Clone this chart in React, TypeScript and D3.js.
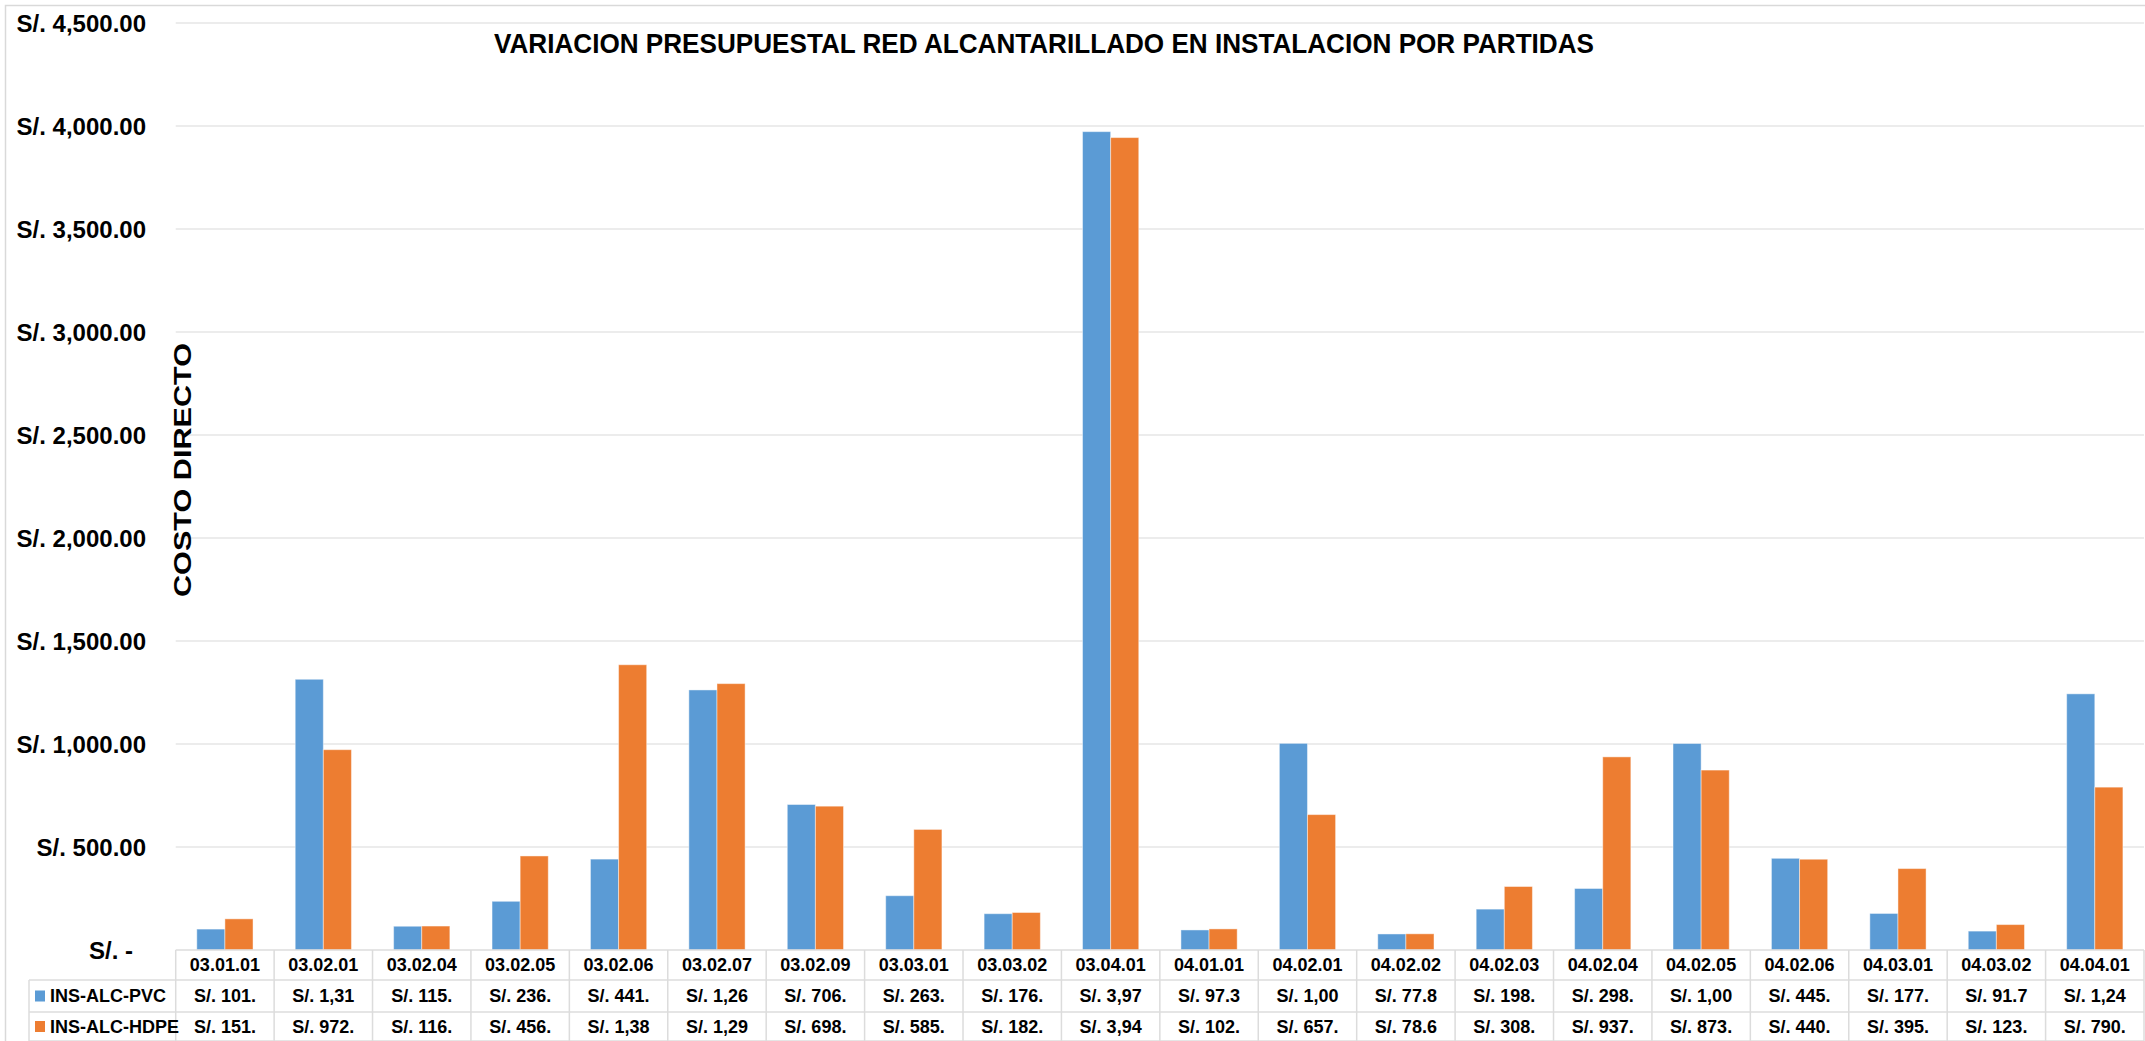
import React from "react";
import * as d3 from "d3";

// Partidas (budget items) along the category axis
const categories = [
  "03.01.01", "03.02.01", "03.02.04", "03.02.05", "03.02.06", "03.02.07", "03.02.09",
  "03.03.01", "03.03.02", "03.04.01", "04.01.01", "04.02.01", "04.02.02", "04.02.03",
  "04.02.04", "04.02.05", "04.02.06", "04.03.01", "04.03.02", "04.04.01",
];

const seriesNames = ["INS-ALC-PVC", "INS-ALC-HDPE"];

// Direct cost per item, PVC installation
const pvcValues = [
  101.5, 1314.2, 115.3, 236.4, 441.2, 1262.4, 706.3, 263.5, 176.2, 3972.6,
  97.3, 1003.1, 77.8, 198.4, 298.6, 1002.4, 445.1, 177.4, 91.7, 1243.5,
];

// Direct cost per item, HDPE installation
const hdpeValues = [
  151.2, 972.4, 116.3, 456.5, 1384.7, 1293.1, 698.2, 585.3, 182.1, 3943.8,
  102.4, 657.3, 78.6, 308.2, 937.5, 873.4, 440.6, 395.3, 123.4, 790.5,
];

const yTicks = [0, 500, 1000, 1500, 2000, 2500, 3000, 3500, 4000, 4500];

const seriesValues = [pvcValues, hdpeValues];
const colors = ["#5B9BD5", "#ED7D31"];

const W = 2145;
const H = 1041;
const plotLeft = 175.7;
const plotRight = 2144;
const plotTop = 23;
const plotBottom = 950;
const rowTop = [950, 980, 1012];
const rowBottom = 1041;

const font = "'Liberation Sans', Arial, sans-serif";

const money = d3.format(",.2f");
const axisLabel = (v: number) => (v === 0 ? "S/. -" : "S/. " + money(v));
// Table cells only have room for eight characters of the formatted amount
const cellLabel = (v: number) => ("S/. " + money(v)).slice(0, 8);

export default function App() {
  const y = d3.scaleLinear().domain([0, 4500]).range([plotBottom, plotTop]);
  const x0 = d3.scaleBand<string>().domain(categories).range([plotLeft, plotRight]).padding(0);
  const band = x0.bandwidth();
  const barW = band / 3.5; // 150% gap between clusters
  const x1 = d3
    .scaleBand<string>()
    .domain(seriesNames)
    .range([0.75 * barW, 2.75 * barW])
    .padding(0);

  const gridColor = "#e6e6e6";
  const tableColor = "#dcdcdc";

  return (
    <svg
      width={W}
      height={H}
      style={{ position: "absolute", left: 0, top: 0, display: "block", background: "#fff" }}
      fontFamily={font}
    >
      <rect x={0} y={0} width={W} height={H} fill="#fff" />
      {/* outer chart frame */}
      <rect x={5.5} y={5.5} width={W - 4} height={H} fill="none" stroke="#d9d9d9" strokeWidth={1.5} />

      {/* horizontal gridlines */}
      {yTicks.filter((t) => t > 0).map((t) => (
        <line key={t} x1={plotLeft} x2={plotRight} y1={y(t)} y2={y(t)} stroke={gridColor} strokeWidth={1.5} />
      ))}

      {/* y-axis tick labels */}
      {yTicks.map((t) => (
        <text
          key={t}
          x={t === 0 ? 133 : 146}
          y={y(t)}
          dy="0.36em"
          textAnchor="end"
          fontSize={24}
          fontWeight="bold"
          fill="#000"
        >
          {axisLabel(t)}
        </text>
      ))}

      {/* title */}
      <text
        x={1044}
        y={53}
        textAnchor="middle"
        fontSize={28}
        fontWeight="bold"
        fill="#000"
        textLength={1100}
        lengthAdjust="spacingAndGlyphs"
      >
        VARIACION PRESUPUESTAL RED ALCANTARILLADO EN INSTALACION POR PARTIDAS
      </text>

      {/* bars */}
      {categories.map((c, i) => (
        <g key={c} transform={`translate(${x0(c)},0)`}>
          {seriesNames.map((s, k) => {
            const v = seriesValues[k][i];
            return (
              <rect
                key={s}
                x={x1(s)}
                y={y(v)}
                width={x1.bandwidth()}
                height={plotBottom - y(v)}
                fill={colors[k]}
                stroke="#ffffff"
                strokeOpacity={0.45}
                strokeWidth={1}
              />
            );
          })}
        </g>
      ))}

      {/* y-axis title */}
      <text
        transform={`translate(191,470) rotate(-90)`}
        textAnchor="middle"
        fontSize={24}
        fontWeight="bold"
        fill="#000"
        textLength={254}
        lengthAdjust="spacingAndGlyphs"
      >
        COSTO DIRECTO
      </text>

      {/* data table grid */}
      <line x1={plotLeft} x2={plotRight} y1={rowTop[0]} y2={rowTop[0]} stroke={tableColor} strokeWidth={1.5} />
      <line x1={29} x2={plotRight} y1={rowTop[1]} y2={rowTop[1]} stroke={tableColor} strokeWidth={1.5} />
      <line x1={29} x2={plotRight} y1={rowTop[2]} y2={rowTop[2]} stroke={tableColor} strokeWidth={1.5} />
      <line x1={29} x2={plotRight} y1={rowBottom} y2={rowBottom} stroke={tableColor} strokeWidth={1.5} />
      <line x1={29} x2={29} y1={rowTop[1]} y2={rowBottom} stroke={tableColor} strokeWidth={1.5} />
      {categories.map((c) => (
        <line
          key={c}
          x1={x0(c)}
          x2={x0(c)}
          y1={rowTop[0]}
          y2={rowBottom}
          stroke={tableColor}
          strokeWidth={1.5}
        />
      ))}
      <line x1={plotRight} x2={plotRight} y1={rowTop[0]} y2={rowBottom} stroke={tableColor} strokeWidth={1.5} />

      {/* category header row */}
      {categories.map((c) => (
        <text
          key={c}
          x={(x0(c) as number) + band / 2}
          y={(rowTop[0] + rowTop[1]) / 2}
          dy="0.36em"
          textAnchor="middle"
          fontSize={18}
          fontWeight="bold"
          fill="#000"
        >
          {c}
        </text>
      ))}

      {/* series rows with legend keys */}
      {seriesNames.map((s, k) => {
        const top = rowTop[k + 1];
        const bottom = k === 0 ? rowTop[2] : rowBottom;
        const cy = (top + bottom) / 2;
        return (
          <g key={s}>
            <rect x={35} y={cy - 5.5} width={10} height={11} fill={colors[k]} />
            <text x={50} y={cy} dy="0.36em" fontSize={18} fontWeight="bold" fill="#000">
              {s}
            </text>
            {categories.map((c, i) => (
              <text
                key={c}
                x={(x0(c) as number) + band / 2}
                y={cy}
                dy="0.36em"
                textAnchor="middle"
                fontSize={18}
                fontWeight="bold"
                fill="#000"
              >
                {cellLabel(seriesValues[k][i])}
              </text>
            ))}
          </g>
        );
      })}
    </svg>
  );
}
